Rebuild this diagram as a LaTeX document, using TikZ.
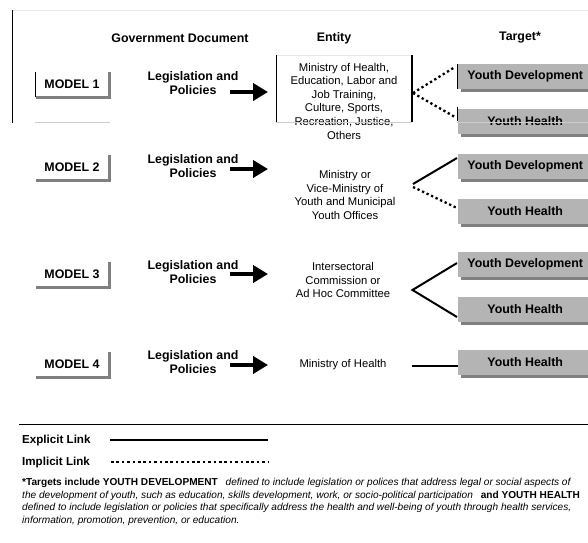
\documentclass[tikz,border=0pt]{standalone}
\usepackage{fontspec}
\setmainfont{Liberation Sans}
\usetikzlibrary{arrows.meta,calc,shadows}

\definecolor{shadowgray}{RGB}{128,128,128}
\definecolor{targetfill}{RGB}{180,180,180}
\definecolor{faintrule}{RGB}{205,205,205}
\definecolor{paleRule}{RGB}{232,232,232}

\tikzset{
  boldtext/.style={font=\bfseries\fontsize{12.4}{14}\selectfont},
  hdr/.style={boldtext, inner sep=0},
  modelbox/.style={boldtext, minimum width=72pt, minimum height=24pt, inner sep=0, fill=white},
  modelshade/.style={shadowgray, line width=2.6pt},
  policy/.style={boldtext, align=center, inner sep=0},
  entity/.style={align=center, inner sep=0, font=\fontsize{11.25}{13.6}\selectfont},
  target/.style={boldtext, anchor=west, minimum width=134pt, minimum height=25pt, inner sep=0,
    fill=targetfill, drop shadow={shadow xshift=3pt, shadow yshift=-3pt, fill=shadowgray, opacity=1}},
  explicit/.style={line width=2pt},
  implicit/.style={line width=2.3pt, dash pattern=on 2.3pt off 2.7pt},
  lawarrow/.style={line width=4.5pt, -{Triangle[length=15pt,width=17pt]}},
  legendlabel/.style={font=\bfseries\fontsize{11.6}{13}\selectfont, anchor=west, inner sep=0},
  edgeline/.style={black, line width=1.5pt},
}

\begin{document}
\begin{tikzpicture}[x=1pt,y=-1pt]
\useasboundingbox (0,0) rectangle (588,542);
\clip (0,0) rectangle (588,542);

% column headings
\node[hdr] (hgov) at (180,38) {Government Document};
\node[hdr] (hent) at (334,38) {Entity};
\node[hdr] (htar) at (520,38) {Target*};

% ---------- model boxes ----------
\foreach \n/\y in {1/84,2/167,3/274,4/364}{
  \node[modelbox] (m\n) at (72,\y) {MODEL \n};
  \draw[modelshade] ($(m\n.north east)+(1.3,0)$) -- ($(m\n.south east)+(1.3,1.3)$) -- ($(m\n.south west)+(0,1.3)$);
}

% ---------- legislation and policies ----------
\foreach \n/\y in {1/83,2/166,3/272,4/362}{
  \node[policy] (p\n) at (193,\y) {Legislation and\\Policies};
}
\foreach \n/\y in {1/92,2/169,3/274,4/365}{
  \coordinate (as\n) at (230,\y);
  \coordinate (ae\n) at (268,\y);
  \draw[lawarrow] (as\n) -- (ae\n);
}

% ---------- entities ----------
\node[entity] (e1) at (344,101) {Ministry of Health,\\Education, Labor and\\Job Training,\\Culture, Sports,\\Recreation, Justice,\\Others};
\node[entity] (e2) at (345,195) {Ministry or\\Vice-Ministry of\\Youth and Municipal\\Youth Offices};
\node[entity] (e3) at (343,280) {Intersectoral\\Commission or\\Ad Hoc Committee};
\node[entity] (e4) at (343,365) {Ministry of Health};

% ---------- targets ----------
\node[target] (yd1) at (458,76) {Youth Development};
\node[target] (yh1) at (458,121) {Youth Health};
\node[target] (yd2) at (458,166) {Youth Development};
\node[target] (yh2) at (458,211.5) {Youth Health};
\node[target] (yd3) at (458,264) {Youth Development};
\node[target] (yh3) at (458,309) {Youth Health};
\node[target] (yh4) at (458,362) {Youth Health};

% ---------- links ----------
\coordinate (v1) at (413,93);
\draw[implicit] (v1) -- ($(yd1.west)+(-3,-9)$);
\draw[implicit] (v1) -- ($(yh1.west)+(-3,-4)$);

\coordinate (v2a) at (413,184);
\coordinate (v2b) at (413,187);
\draw[explicit] (v2a) -- ($(yd2.west)+(-1,-8)$);
\draw[implicit] (v2b) -- ($(yh2.west)+(-1,-3.5)$);

\coordinate (v3) at (412.5,290);
\draw[explicit] ($(yd3.west)+(-1,-1)$) -- (v3) -- ($(yh3.west)+(-1,8)$);

\coordinate (v4) at (412,365.5);
\draw[explicit] (v4) -- (v4 -| yh4.west);

% ---------- frame rules around the first row ----------
\draw[paleRule, line width=1pt] (12,10) -- (588,10);
\draw[paleRule, line width=1pt] (276,55) -- (412,55);
\draw[edgeline] (12.3,10) -- (12.3,122.5);
\draw[edgeline] (35.5,72) -- (35.5,97);
\draw[edgeline] (276.5,55) -- (276.5,122);
\draw[edgeline] (411.8,55) -- (411.8,122);
\draw[edgeline] (457.5,64) -- (457.5,89);
\draw[edgeline] (457.5,107) -- (457.5,121);
\draw[faintrule, line width=1pt] (35,122.5) -- (110,122.5);
\draw[faintrule, line width=1pt] (276,122.5) -- (412,122.5);
\draw[faintrule, line width=1pt] (457,122.5) -- (588,122.5);

% ---------- legend ----------
\draw[line width=1pt] (19,424) -- (588,424);
\node[legendlabel] (lexp) at (22,440) {Explicit Link};
\node[legendlabel] (limp) at (22,462) {Implicit Link};
\coordinate (lexpA) at (110,440);
\coordinate (lexpB) at (268,440);
\coordinate (limpA) at (111,462);
\coordinate (limpB) at (268,462);
\draw[line width=2.8pt] (lexpA) -- (lexpB);
\draw[line width=2.6pt, dash pattern=on 2.6pt off 2.8pt] (limpA) -- (limpB);

% ---------- footnote ----------
\node[anchor=north west, inner sep=0, align=left, font=\fontsize{10.1}{12.5}\selectfont] (note) at (22,478.3)
{{\bfseries *Targets include YOUTH DEVELOPMENT}\hspace{5pt} {\itshape defined to include legislation or polices that address legal or social aspects of}\\
{\itshape the development of youth, such as education, skills development, work, or socio-political participation}\hspace{5pt} {\bfseries and YOUTH HEALTH}\\
{\itshape defined to include legislation or policies that specifically address the health and well-being of youth through health services,}\\
{\itshape information, promotion, prevention, or education.}};
\end{tikzpicture}
\end{document}
